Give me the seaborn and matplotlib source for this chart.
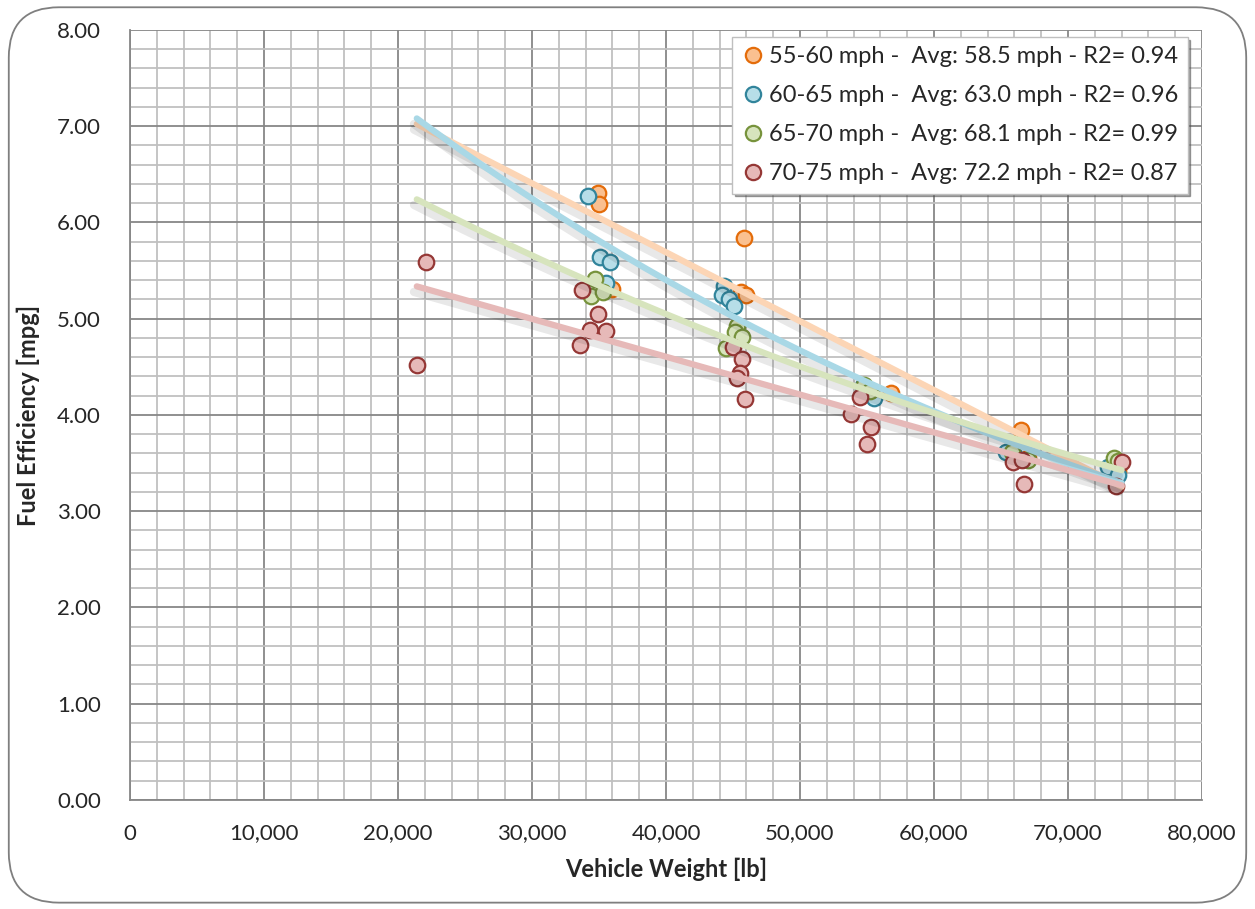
import matplotlib

matplotlib.use("Agg")

import matplotlib.pyplot as plt
import matplotlib.patheffects as pe
import numpy as np
import seaborn as sns
from matplotlib.lines import Line2D
from matplotlib.patches import FancyBboxPatch
from matplotlib.ticker import FuncFormatter, MultipleLocator

sns.set_style("white")
plt.rcParams["font.family"] = ["Lato", "DejaVu Sans"]

# vehicle weight [lb] and fuel efficiency [mpg] per speed band
w_55 = [34900, 35000, 36000, 45800, 45600, 46000, 56800, 66500, 67000, 73700]
fe_55 = [6.31, 6.19, 5.31, 5.84, 5.28, 5.25, 4.23, 3.84, 3.55, 3.42]

w_60 = [34200, 35100, 35800, 35500, 44300, 44200, 44700, 45100, 54700, 55300,
        55500, 65400, 66000, 73000, 73700]
fe_60 = [6.27, 5.64, 5.59, 5.37, 5.34, 5.25, 5.21, 5.13, 4.30, 4.22,
         4.18, 3.62, 3.58, 3.46, 3.38]

w_65 = [34700, 34400, 35300, 45300, 45150, 45700, 44500, 54800, 55200, 65800,
        67000, 73400, 73700]
fe_65 = [5.41, 5.24, 5.28, 4.92, 4.86, 4.81, 4.70, 4.31, 4.25, 3.62,
         3.53, 3.55, 3.52]

w_70 = [21400, 22100, 33700, 34900, 34300, 35500, 33600, 45000, 45700, 45500,
        45300, 45900, 54500, 53800, 55300, 55000, 65900, 66600, 66700, 74000, 73600]
fe_70 = [4.52, 5.59, 5.30, 5.05, 4.88, 4.87, 4.73, 4.71, 4.58, 4.44,
         4.38, 4.17, 4.19, 4.01, 3.88, 3.70, 3.51, 3.53, 3.28, 3.51, 3.26]

labels = [
    "55-60 mph -  Avg: 58.5 mph - R2= 0.94",
    "60-65 mph -  Avg: 63.0 mph - R2= 0.96",
    "65-70 mph -  Avg: 68.1 mph - R2= 0.99",
    "70-75 mph -  Avg: 72.2 mph - R2= 0.87",
]

series = [(w_55, fe_55), (w_60, fe_60), (w_65, fe_65), (w_70, fe_70)]
fit_kind = ["linear", "exp", "exp", "linear"]
fills = ["#FAC090", "#B7DEE8", "#D7E4BD", "#E6B9B8"]
edges = ["#E46C0A", "#31849B", "#77933C", "#953735"]
trend_colors = ["#FCD5B5", "#A9D8E6", "#D7E4BD", "#E6B9B8"]


def trend(w, fe, kind, xs):
    w = np.asarray(w, float)
    fe = np.asarray(fe, float)
    if kind == "exp":
        b, a = np.polyfit(w, np.log(fe), 1)
        return np.exp(a + b * xs)
    b, a = np.polyfit(w, fe, 1)
    return a + b * xs


fig = plt.figure(figsize=(12.55, 9.09), dpi=100)
ax = fig.add_axes([0.1036, 0.12, 0.8542, 0.847])

fig.patches.append(FancyBboxPatch(
    (0.007, 0.007), 0.986, 0.985, boxstyle="round,pad=0,rounding_size=0.04",
    transform=fig.transFigure, facecolor="none", edgecolor="#7F7F7F", lw=1.3,
    mutation_aspect=1.38))

for (w, fe), fc, ec in zip(series, fills, edges):
    sns.scatterplot(x=w, y=fe, ax=ax, color=fc, edgecolor=ec, linewidth=1.6,
                    s=125, zorder=3)

# trendlines spanning the full weight range
all_w = np.concatenate([np.asarray(w) for w, _ in series])
xs = np.linspace(all_w.min(), all_w.max(), 200)
for (w, fe), kind, tc in zip(series, fit_kind, trend_colors):
    ax.plot(xs, trend(w, fe, kind, xs), color=tc, lw=4.5, zorder=4,
            solid_capstyle="round",
            path_effects=[pe.SimpleLineShadow(offset=(-2, -4), shadow_color="black",
                                              alpha=0.09, linewidth=6),
                          pe.Normal()])

ax.set_xlim(0, 80000)
ax.set_ylim(0, 8)
ax.xaxis.set_major_locator(MultipleLocator(10000))
ax.xaxis.set_minor_locator(MultipleLocator(2000))
ax.yaxis.set_major_locator(MultipleLocator(1))
ax.yaxis.set_minor_locator(MultipleLocator(0.2))
ax.xaxis.set_major_formatter(FuncFormatter(lambda v, p: f"{v:,.0f}"))
ax.yaxis.set_major_formatter(FuncFormatter(lambda v, p: f"{v:.2f}"))

ax.grid(which="minor", color="#C0C0C0", lw=1.3, zorder=0)
ax.grid(which="major", color="#878787", lw=1.3, zorder=0)
ax.set_axisbelow(True)
for side in ["top", "right"]:
    ax.spines[side].set_visible(False)
for side in ["left", "bottom"]:
    ax.spines[side].set_color("#878787")
    ax.spines[side].set_linewidth(1.3)
ax.tick_params(which="major", length=7, width=1.3, color="#878787",
               labelsize=16, direction="out")
ax.tick_params(which="minor", length=0)
ax.tick_params(axis="y", pad=14)
ax.tick_params(axis="x", pad=10)

ax.set_xlabel("Vehicle Weight [lb]", fontsize=17, fontweight="bold", labelpad=10)
ax.set_ylabel("Fuel Efficiency [mpg]", fontsize=17, fontweight="bold", labelpad=12)

handles = [Line2D([], [], ls="none", marker="o", markersize=11, markerfacecolor=fc,
                  markeredgecolor=ec, markeredgewidth=1.6)
           for fc, ec in zip(fills, edges)]
leg = ax.legend(handles, labels, loc="upper right", bbox_to_anchor=(0.9865, 0.991),
                borderaxespad=0, fontsize=17, frameon=True, fancybox=False,
                shadow=True, edgecolor="#BFBFBF", framealpha=1, handletextpad=0.15,
                labelspacing=0.76, borderpad=0.4, handlelength=1.0)
leg.get_frame().set_linewidth(1.0)

fig.savefig("out.png", dpi=100)
plt.close(fig)
